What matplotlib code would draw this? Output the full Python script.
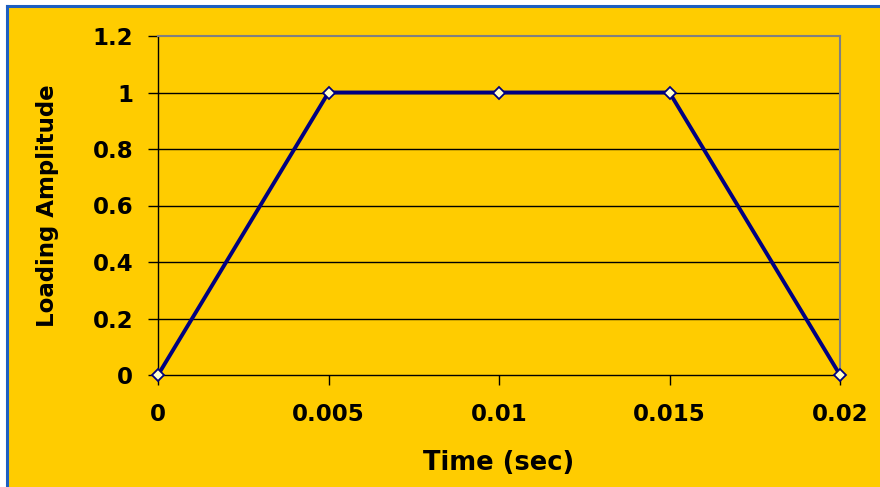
import matplotlib
matplotlib.use("Agg")
import matplotlib.pyplot as plt
from matplotlib.patches import Rectangle
from matplotlib.lines import Line2D

# Trapezoidal loading pulse
time_sec = [0, 0.005, 0.01, 0.015, 0.02]
amplitude = [0, 1, 1, 1, 0]
x_ticks = [0, 0.005, 0.01, 0.015, 0.02]
x_tick_labels = ["0", "0.005", "0.01", "0.015", "0.02"]
y_ticks = [0, 0.2, 0.4, 0.6, 0.8, 1, 1.2]
y_tick_labels = ["0", "0.2", "0.4", "0.6", "0.8", "1", "1.2"]

bg = "#FFCC00"
navy = "#000080"

plt.rcParams["font.family"] = ["DejaVu Sans"]
plt.rcParams["font.weight"] = "bold"

fig = plt.figure(figsize=(8.8, 4.87), dpi=100)
fig.patch.set_facecolor("white")

# yellow chart area with blue frame on the left and top
fig.patches.append(Rectangle((7 / 880, 0), 1, 1 - 6 / 487, transform=fig.transFigure,
                             facecolor=bg, edgecolor="none", zorder=-5))
fig.lines.append(Line2D([7 / 880, 7 / 880], [0, 1 - 6 / 487], transform=fig.transFigure,
                        color="#1F5FBF", lw=2.2, zorder=-4))
fig.lines.append(Line2D([7 / 880, 1], [1 - 6 / 487, 1 - 6 / 487], transform=fig.transFigure,
                        color="#1F5FBF", lw=2.2, zorder=-4))

ax = fig.add_axes([158 / 880, 1 - 375 / 487, (840 - 158) / 880, (375 - 36) / 487])
ax.set_facecolor(bg)
ax.set_xlim(0, 0.02)
ax.set_ylim(0, 1.2)

for y in y_ticks[1:-1]:
    ax.axhline(y, color="black", lw=1.0, zorder=1)

ax.plot(time_sec, amplitude, color=navy, lw=2.8, marker="D", markersize=6,
        markerfacecolor="#FFFFCC", markeredgecolor=navy, markeredgewidth=1.3,
        zorder=3, clip_on=False)

ax.spines["left"].set_color("black")
ax.spines["bottom"].set_color("black")
ax.spines["left"].set_linewidth(1.0)
ax.spines["bottom"].set_linewidth(1.0)
ax.spines["top"].set_color("#808080")
ax.spines["right"].set_color("#808080")
ax.spines["top"].set_linewidth(1.5)
ax.spines["right"].set_linewidth(1.5)

ax.set_xticks(x_ticks)
ax.set_xticklabels(x_tick_labels)
ax.set_yticks(y_ticks)
ax.set_yticklabels(y_tick_labels)
ax.tick_params(axis="both", direction="out", length=7, width=1, colors="black",
               labelsize=16.5)
ax.tick_params(axis="x", pad=13.5)
ax.tick_params(axis="y", pad=11)
for lbl in ax.get_xticklabels() + ax.get_yticklabels():
    lbl.set_fontweight("bold")

ax.set_xlabel("Time (sec)", fontsize=18.5, fontweight="bold", labelpad=17)
ax.set_ylabel("Loading Amplitude", fontsize=16.5, fontweight="bold", labelpad=24)

fig.savefig("out.png", dpi=100, facecolor=fig.get_facecolor())
